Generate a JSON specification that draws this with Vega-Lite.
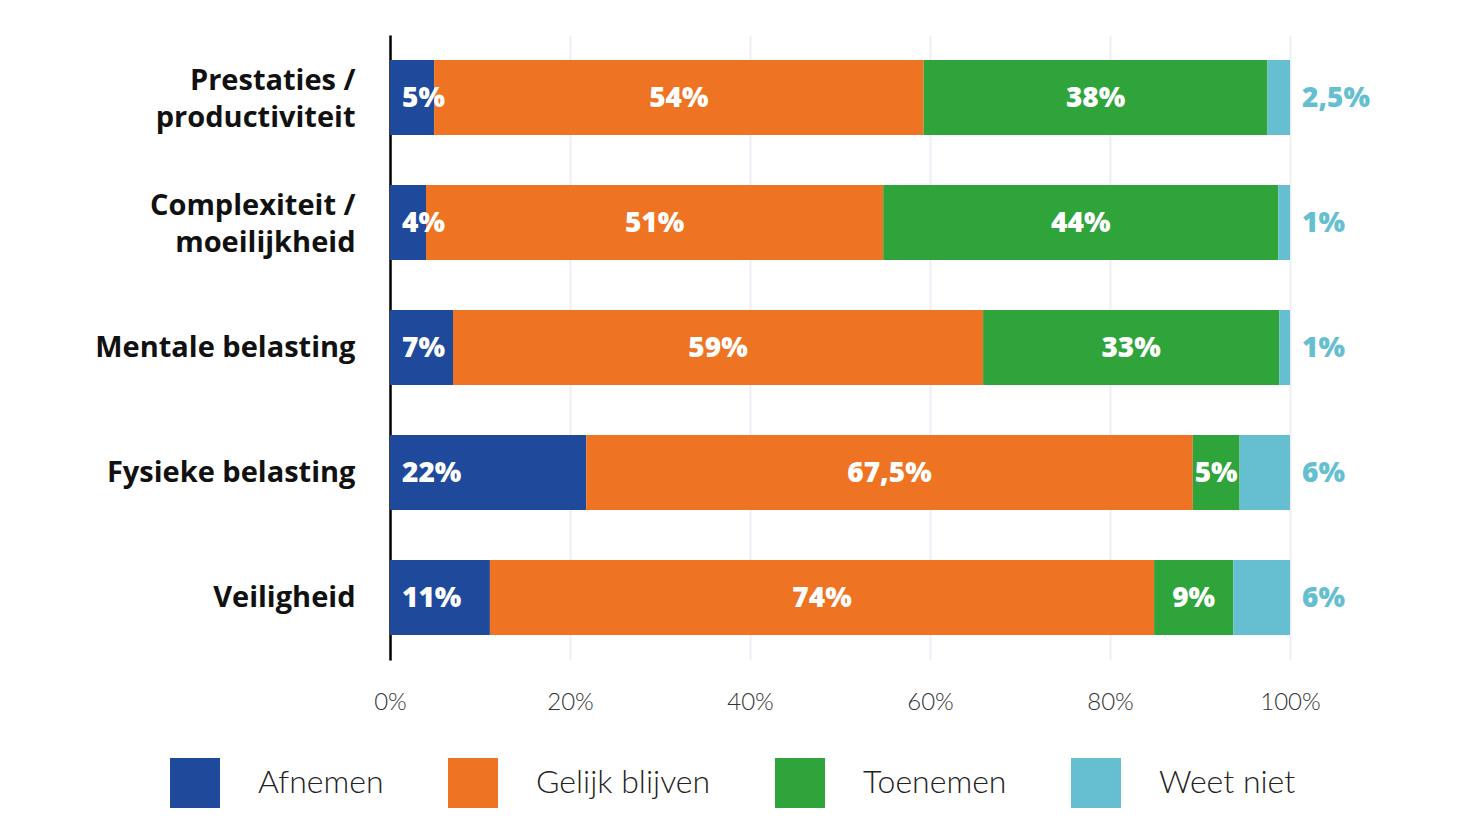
{
  "$schema": "https://vega.github.io/schema/vega-lite/v6.json",
  "width": 900,
  "height": 625,
  "autosize": "none",
  "padding": {"left": 390, "top": 35, "right": 194, "bottom": 175},
  "background": "white",
  "config": {"view": {"stroke": null}},
  "data": {
    "values": [
      {"category": "Prestaties / productiviteit", "response": "Afnemen", "order": 1, "value": 4.9, "label": "5%"},
      {"category": "Prestaties / productiviteit", "response": "Gelijk blijven", "order": 2, "value": 54.4, "label": "54%"},
      {"category": "Prestaties / productiviteit", "response": "Toenemen", "order": 3, "value": 38.2, "label": "38%"},
      {"category": "Prestaties / productiviteit", "response": "Weet niet", "order": 4, "value": 2.5, "label": "2,5%"},
      {"category": "Complexiteit / moeilijkheid", "response": "Afnemen", "order": 1, "value": 4.0, "label": "4%"},
      {"category": "Complexiteit / moeilijkheid", "response": "Gelijk blijven", "order": 2, "value": 50.8, "label": "51%"},
      {"category": "Complexiteit / moeilijkheid", "response": "Toenemen", "order": 3, "value": 43.9, "label": "44%"},
      {"category": "Complexiteit / moeilijkheid", "response": "Weet niet", "order": 4, "value": 1.3, "label": "1%"},
      {"category": "Mentale belasting", "response": "Afnemen", "order": 1, "value": 7.0, "label": "7%"},
      {"category": "Mentale belasting", "response": "Gelijk blijven", "order": 2, "value": 58.9, "label": "59%"},
      {"category": "Mentale belasting", "response": "Toenemen", "order": 3, "value": 32.9, "label": "33%"},
      {"category": "Mentale belasting", "response": "Weet niet", "order": 4, "value": 1.2, "label": "1%"},
      {"category": "Fysieke belasting", "response": "Afnemen", "order": 1, "value": 21.8, "label": "22%"},
      {"category": "Fysieke belasting", "response": "Gelijk blijven", "order": 2, "value": 67.4, "label": "67,5%"},
      {"category": "Fysieke belasting", "response": "Toenemen", "order": 3, "value": 5.2, "label": "5%"},
      {"category": "Fysieke belasting", "response": "Weet niet", "order": 4, "value": 5.6, "label": "6%"},
      {"category": "Veiligheid", "response": "Afnemen", "order": 1, "value": 11.1, "label": "11%"},
      {"category": "Veiligheid", "response": "Gelijk blijven", "order": 2, "value": 73.8, "label": "74%"},
      {"category": "Veiligheid", "response": "Toenemen", "order": 3, "value": 8.8, "label": "9%"},
      {"category": "Veiligheid", "response": "Weet niet", "order": 4, "value": 6.3, "label": "6%"}
    ]
  },
  "transform": [
    {"stack": "value", "groupby": ["category"], "sort": [{"field": "order"}], "as": ["x0", "x1"]},
    {"calculate": "(datum.x0 + datum.x1) / 2", "as": "xmid"}
  ],
  "encoding": {
    "y": {
      "field": "category",
      "type": "nominal",
      "sort": ["Prestaties / productiviteit", "Complexiteit / moeilijkheid", "Mentale belasting", "Fysieke belasting", "Veiligheid"],
      "scale": {"paddingInner": 0.4, "paddingOuter": 0.2},
      "axis": {
        "title": null,
        "domain": true,
        "domainColor": "#000000",
        "domainWidth": 2.5,
        "ticks": false,
        "labelPadding": 35,
        "labelFont": "Open Sans",
        "labelFontSize": 29,
        "labelFontWeight": 700,
        "labelColor": "#111111",
        "labelLineHeight": 37,
        "labelLimit": 400,
        "labelOffset": {"condition": {"test": "indexof(datum.value, ' / ') > 0", "value": -17}, "value": 0},
        "labelExpr": "indexof(datum.value, ' / ') > 0 ? [split(datum.value, ' / ')[0] + ' /', split(datum.value, ' / ')[1]] : datum.value"
      }
    }
  },
  "layer": [
    {
      "mark": {"type": "bar"},
      "encoding": {
        "x": {
          "field": "x0",
          "type": "quantitative",
          "scale": {"domain": [0, 100], "nice": false},
          "axis": {
            "title": null,
            "values": [0, 20, 40, 60, 80, 100],
            "labelExpr": "datum.value + '%'",
            "labelFlush": false,
            "domain": false,
            "ticks": false,
            "grid": true,
            "gridColor": "#EDEFF5",
            "gridWidth": 2,
            "labelPadding": 30,
            "labelFont": "Lato",
            "labelFontSize": 24,
            "labelFontWeight": 300,
            "labelColor": "#333333"
          }
        },
        "x2": {"field": "x1"},
        "color": {
          "field": "response",
          "type": "nominal",
          "sort": ["Afnemen", "Gelijk blijven", "Toenemen", "Weet niet"],
          "scale": {
            "domain": ["Afnemen", "Gelijk blijven", "Toenemen", "Weet niet"],
            "range": ["#1F4A9B", "#EE7322", "#2EA43B", "#66BFD0"]
          },
          "legend": {
            "title": null,
            "orient": "none",
            "legendX": -220,
            "legendY": 723,
            "direction": "horizontal",
            "symbolType": "square",
            "symbolSize": 2500,
            "symbolStrokeWidth": 0,
            "symbolOpacity": 1,
            "labelFont": "Lato",
            "labelFontSize": 32,
            "labelFontWeight": 300,
            "labelColor": "#222222",
            "labelOffset": 38,
            "labelLimit": 400,
            "columnPadding": 64
          }
        }
      }
    },
    {
      "transform": [{"filter": "datum.response == 'Afnemen'"}],
      "mark": {"type": "text", "align": "left", "dx": 12, "dy": 1, "font": "Open Sans", "fontSize": 28, "fontWeight": 800, "color": "#FFFFFF"},
      "encoding": {
        "x": {"field": "x0", "type": "quantitative"},
        "text": {"field": "label"}
      }
    },
    {
      "transform": [{"filter": "datum.response == 'Gelijk blijven' || datum.response == 'Toenemen'"}],
      "mark": {"type": "text", "align": "center", "dy": 1, "font": "Open Sans", "fontSize": 28, "fontWeight": 800, "color": "#FFFFFF"},
      "encoding": {
        "x": {"field": "xmid", "type": "quantitative"},
        "text": {"field": "label"}
      }
    },
    {
      "transform": [{"filter": "datum.response == 'Weet niet'"}],
      "mark": {"type": "text", "align": "left", "dx": 12, "dy": 1, "font": "Open Sans", "fontSize": 28, "fontWeight": 800, "color": "#66BFD0"},
      "encoding": {
        "x": {"field": "x1", "type": "quantitative"},
        "text": {"field": "label"}
      }
    }
  ]
}
